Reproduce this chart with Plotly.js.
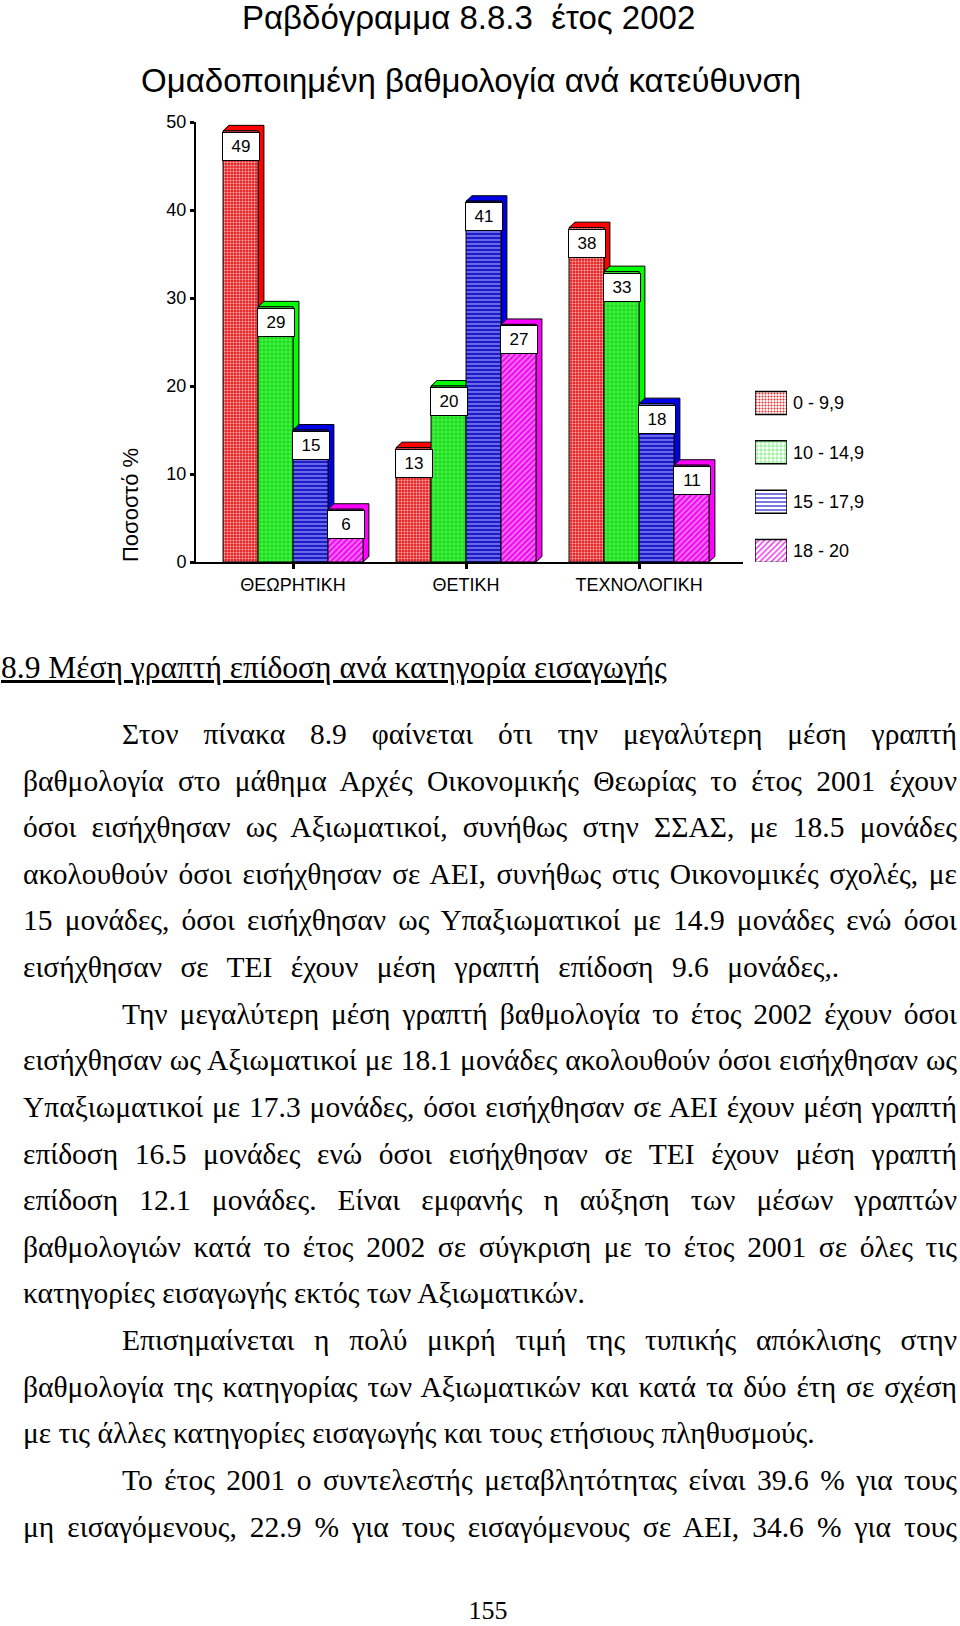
<!DOCTYPE html>
<html><head><meta charset="utf-8">
<script src="https://cdn.plot.ly/plotly-3.0.1.min.js"></script>
<style>
body{margin:0;background:#fff;}
#page{position:relative;width:960px;height:1626px;overflow:hidden;background:#fff;}
#chart{position:absolute;left:0;top:0;width:960px;height:610px;}
.tx{position:absolute;left:23px;width:934px;font-family:"Liberation Serif","Times New Roman",serif;font-size:29.5px;line-height:46px;height:46px;color:#000;text-align:justify;text-align-last:justify;box-sizing:border-box;}
.last{text-align-last:left;}
.ind{padding-left:99px;}
#head{position:absolute;left:1px;top:648px;font-family:"Liberation Serif","Times New Roman",serif;font-size:31.5px;line-height:40px;text-decoration:underline;color:#000;white-space:nowrap;}
#pnum{position:absolute;left:0;width:976px;top:1600px;text-align:center;font-family:"Liberation Serif","Times New Roman",serif;font-size:26px;line-height:22px;}
</style></head>
<body>
<div id="page">
<div id="chart"></div>
<div id="head">8.9 Μέση γραπτή επίδοση ανά κατηγορία εισαγωγής</div>
<div id="body"></div>
<div id="pnum">155</div>
</div>
<script>
// ---- chart data ----
const categories = ['ΘΕΩΡΗΤΙΚΗ', 'ΘΕΤΙΚΗ', 'ΤΕΧΝΟΛΟΓΙΚΗ'];
const seriesNames = ['0 - 9,9', '10 - 14,9', '15 - 17,9', '18 - 20'];
const grade0to10 = [49, 13, 38];
const grade10to15 = [29, 20, 33];
const grade15to18 = [15, 41, 18];
const grade18to20 = [6, 27, 11];
const yTicks = [0, 10, 20, 30, 40, 50];

const series = [grade0to10, grade10to15, grade15to18, grade18to20];
const styles = [
  {shape: '.', bg: '#e62424', fg: '#ffb4b4', side: '#ff0000', size: 3, sol: 0.35},
  {shape: '+', bg: '#14e014', fg: '#9cff9c', side: '#00ff00', size: 4, sol: 0.2},
  {shape: '-', bg: '#1c1cc8', fg: '#9a9aff', side: '#0000e6', size: 4, sol: 0.3},
  {shape: '/', bg: '#ee10ee', fg: '#ff9aff', side: '#ff00ff', size: 4, sol: 0.3}
];
const F = 'Liberation Sans, Arial, sans-serif';
const W = 0.2023, DX = 0.034, DY = 0.62;

const depthTraces = [], frontTraces = [], labels = [];
series.forEach((vals, j) => {
  const dx = [], dy = [], fx = [], fy = [];
  vals.forEach((v, i) => {
    const x0 = i - 2 * W + j * W, x1 = x0 + W;
    dx.push(x0, x0 + DX, x1 + DX, x1 + DX, x1, x1, x0, null);
    dy.push(v, v + DY, v + DY, DY, 0, v, v, null);
    fx.push(x0, x1, x1, x0, x0, null);
    fy.push(0, 0, v, v, 0, null);
    labels.push({
      x: (x0 + x1) / 2, y: v, xref: 'x', yref: 'y', yanchor: 'top', xanchor: 'center',
      yshift: -1, text: String(v), showarrow: false, bgcolor: '#fff', bordercolor: '#000',
      borderwidth: 1, borderpad: 1, width: 34, height: 25, font: {family: F, size: 17, color: '#000'}
    });
  });
  const st = styles[j];
  depthTraces.push({type: 'scatter', mode: 'lines', x: dx, y: dy, fill: 'toself',
    fillcolor: st.side, line: {color: '#000', width: 1}, hoverinfo: 'skip', showlegend: false});
  frontTraces.push({type: 'scatter', mode: 'lines', x: fx, y: fy, fill: 'toself',
    fillcolor: st.bg, fillpattern: {shape: st.shape, bgcolor: st.bg, fgcolor: st.fg, size: st.size, solidity: st.sol},
    line: {color: '#000', width: 1}, name: seriesNames[j], hoverinfo: 'skip', showlegend: false});
});

const legendTrace = {
  type: 'bar', orientation: 'h', x: seriesNames.map(() => 1), y: seriesNames.map((_, k) => k),
  xaxis: 'x2', yaxis: 'y2', width: 0.466, hoverinfo: 'skip', showlegend: false,
  marker: {color: styles.map(s => s.bg), line: {color: '#000', width: 1.5},
    pattern: {shape: styles.map(s => s.shape), fgcolor: styles.map(s => s.fg), bgcolor: styles.map(s => s.bg),
      size: styles.map(s => s.size), solidity: styles.map(s => s.sol)}}
};

const annotations = labels.concat([
  {text: 'Ραβδόγραμμα 8.8.3  έτος 2002', xref: 'paper', yref: 'paper', x: 0.3656, y: 1.2364,
   xanchor: 'center', yanchor: 'middle', showarrow: false, font: {family: F, size: 33, color: '#000'}},
  {text: 'Ομαδοποιημένη βαθμολογία ανά κατεύθυνση', xref: 'paper', yref: 'paper', x: 0.3696, y: 1.0932,
   xanchor: 'center', yanchor: 'middle', showarrow: false, font: {family: F, size: 33, color: '#000'}},
  {text: 'Ποσοστό %', xref: 'paper', yref: 'paper', x: -0.0887, y: 0.1295, textangle: -90,
   xanchor: 'center', yanchor: 'middle', showarrow: false, font: {family: F, size: 22, color: '#000'}}
]);

const layout = {
  width: 960, height: 610,
  margin: {l: 196, r: 20, t: 122, b: 48},
  paper_bgcolor: '#fff', plot_bgcolor: 'rgba(0,0,0,0)',
  showlegend: false,
  xaxis: {domain: [0, 0.7352], range: [-0.561, 2.601], tickvals: [0, 1, 2], ticktext: categories,
    showline: true, linecolor: '#000', linewidth: 2, ticks: 'outside', ticklen: 5, tickwidth: 3, tickcolor: '#000',
    showgrid: false, zeroline: false, tickfont: {family: F, size: 18, color: '#000'}, fixedrange: true},
  yaxis: {domain: [0, 1], range: [0, 50], tickvals: yTicks, showline: true, linecolor: '#000', linewidth: 2,
    ticks: 'outside', ticklen: 4, tickwidth: 3, tickcolor: '#000', showgrid: false, zeroline: false,
    tickfont: {family: F, size: 18, color: '#000'}, fixedrange: true},
  xaxis2: {domain: [0.7513, 0.7944], range: [0, 1], visible: false, anchor: 'y2', fixedrange: true},
  yaxis2: {domain: [0, 0.4136], range: [3.223, -0.466], anchor: 'x2', side: 'right', tickvals: [0, 1, 2, 3],
    ticktext: seriesNames, showgrid: false, zeroline: false, showline: false, ticks: '', ticklabelstandoff: 5,
    tickfont: {family: F, size: 18, color: '#000'}, fixedrange: true},
  annotations: annotations
};

Plotly.newPlot('chart', depthTraces.concat(frontTraces, [legendTrace]), layout, {staticPlot: true, displayModeBar: false});

// ---- page text ----
const lines = [
  ['Στον πίνακα 8.9 φαίνεται ότι την μεγαλύτερη μέση γραπτή', 1, 0],
  ['βαθμολογία στο μάθημα Αρχές Οικονομικής Θεωρίας το έτος 2001 έχουν', 0, 0],
  ['όσοι εισήχθησαν ως Αξιωματικοί, συνήθως στην ΣΣΑΣ, με 18.5 μονάδες', 0, 0],
  ['ακολουθούν όσοι εισήχθησαν σε ΑΕΙ, συνήθως στις Οικονομικές σχολές, με', 0, 0],
  ['15 μονάδες, όσοι εισήχθησαν ως Υπαξιωματικοί με 14.9 μονάδες ενώ όσοι', 0, 0],
  ['εισήχθησαν σε ΤΕΙ έχουν μέση γραπτή επίδοση 9.6 μονάδες,.', 0, 1, 11],
  ['Την μεγαλύτερη μέση γραπτή βαθμολογία το έτος 2002 έχουν όσοι', 1, 0],
  ['εισήχθησαν ως Αξιωματικοί με 18.1 μονάδες ακολουθούν όσοι εισήχθησαν ως', 0, 0],
  ['Υπαξιωματικοί με 17.3 μονάδες, όσοι εισήχθησαν σε ΑΕΙ έχουν μέση γραπτή', 0, 0],
  ['επίδοση 16.5 μονάδες ενώ όσοι εισήχθησαν σε ΤΕΙ έχουν μέση γραπτή', 0, 0],
  ['επίδοση 12.1 μονάδες. Είναι εμφανής η αύξηση των μέσων γραπτών', 0, 0],
  ['βαθμολογιών κατά το έτος 2002 σε σύγκριση με το έτος 2001 σε όλες τις', 0, 0],
  ['κατηγορίες εισαγωγής εκτός των Αξιωματικών.', 0, 1],
  ['Επισημαίνεται η πολύ μικρή τιμή της τυπικής απόκλισης στην', 1, 0],
  ['βαθμολογία της κατηγορίας των Αξιωματικών και κατά τα δύο έτη σε σχέση', 0, 0],
  ['με τις άλλες κατηγορίες εισαγωγής και τους ετήσιους πληθυσμούς.', 0, 1],
  ['Το έτος 2001 ο συντελεστής μεταβλητότητας είναι 39.6 % για τους', 1, 0],
  ['μη εισαγόμενους, 22.9 % για τους εισαγόμενους σε ΑΕΙ, 34.6 % για τους', 0, 0]
];
const body = document.getElementById('body');
lines.forEach((l, k) => {
  const d = document.createElement('div');
  d.className = 'tx' + (l[1] ? ' ind' : '') + (l[2] ? ' last' : '');
  d.style.top = (734 + k * 46.62 - 23) + 'px';
  if (l[3]) d.style.wordSpacing = l[3] + 'px';
  d.textContent = l[0];
  body.appendChild(d);
});
</script>
</body></html>
